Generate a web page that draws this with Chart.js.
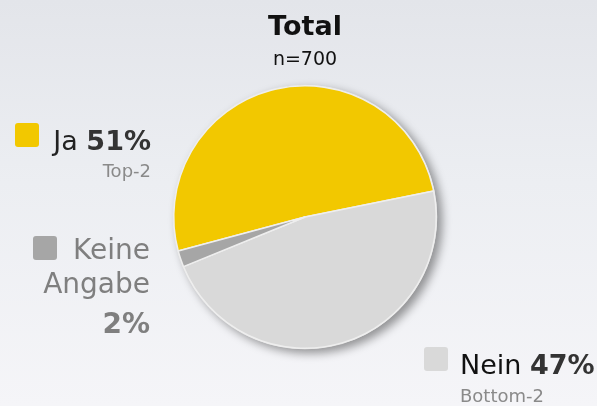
<!DOCTYPE html>
<html lang="de">
<head>
<meta charset="utf-8">
<title>Total n=700</title>
<script src="https://cdn.jsdelivr.net/npm/chart.js@4"></script>
<style>
  html, body {
    margin: 0;
    padding: 0;
    width: 597px;
    height: 406px;
    overflow: hidden;
    background: linear-gradient(to bottom, #e3e5ea 0%, #eceef2 45%, #f5f5f8 100%);
  }
  #chart { display: block; }
</style>
</head>
<body>
<canvas id="chart" width="597" height="406"></canvas>
<script>
// Daten
const categories = ['Ja', 'Nein', 'Keine Angabe'];
const shares = [51, 47, 2];
const subLabels = ['Top-2', 'Bottom-2', ''];
const sliceColors = ['#f2c800', '#d9d9d9', '#a6a6a6'];
const titleText = 'Total';
const subtitleText = 'n=700';

const FONT = '"DejaVu Sans", Verdana, sans-serif';
const MAIN_SIZE = 27;

// Position der Beschriftungen (nur Layout)
const labelLayout = [
  { align: 'right', x: 151, y: 150, box: [15, 123], color: '#222', lineGap: 0, subY: 177 },
  { align: 'left', x: 460, y: 374, box: [424, 347], color: '#111', lineGap: 0, subY: 402 },
  { align: 'right', x: 150, y: 259, box: [33, 236], color: '#7f7f7f', lineGap: 35, subY: 0 }
];

function roundRect(ctx, x, y, w, h, r) {
  ctx.beginPath();
  ctx.moveTo(x + r, y);
  ctx.arcTo(x + w, y, x + w, y + h, r);
  ctx.arcTo(x + w, y + h, x, y + h, r);
  ctx.arcTo(x, y + h, x, y, r);
  ctx.arcTo(x, y, x + w, y, r);
  ctx.closePath();
}

// Schatten hinter dem Kreis
const shadowPlugin = {
  id: 'pieShadow',
  beforeDatasetsDraw(chart) {
    const arc = chart.getDatasetMeta(0).data[0];
    if (!arc) return;
    const ctx = chart.ctx;
    ctx.save();
    ctx.shadowColor = 'rgba(0,0,0,0.4)';
    ctx.shadowBlur = 10;
    ctx.shadowOffsetX = 5;
    ctx.shadowOffsetY = 4;
    ctx.fillStyle = '#e4e4e4';
    ctx.beginPath();
    ctx.arc(arc.x, arc.y, arc.outerRadius + 1, 0, Math.PI * 2);
    ctx.fill();
    ctx.restore();
  }
};

// Titel und Beschriftungen
const labelPlugin = {
  id: 'pieLabels',
  afterDraw(chart) {
    const ctx = chart.ctx;
    ctx.save();
    ctx.textBaseline = 'alphabetic';

    ctx.fillStyle = '#111';
    ctx.textAlign = 'center';
    ctx.font = 'bold 27px ' + FONT;
    ctx.fillText(titleText, 305, 35);
    ctx.font = '19px ' + FONT;
    ctx.fillText(subtitleText, 305, 65);

    categories.forEach((name, i) => {
      const lay = labelLayout[i];
      const pct = shares[i] + '%';

      ctx.fillStyle = sliceColors[i];
      roundRect(ctx, lay.box[0], lay.box[1], 24, 24, 3);
      ctx.fill();

      ctx.fillStyle = lay.color;
      if (lay.lineGap > 0) {
        // mehrzeilig, rechtsbündig
        const words = name.split(' ');
        ctx.textAlign = 'right';
        ctx.font = '28px ' + FONT;
        words.forEach((w, k) => ctx.fillText(w, lay.x, lay.y + k * (lay.lineGap - 1)));
        ctx.font = 'bold 28px ' + FONT;
        ctx.fillText(pct, lay.x, lay.y + words.length * 37);
      } else {
        ctx.font = 'bold ' + MAIN_SIZE + 'px ' + FONT;
        const wPct = ctx.measureText(pct).width;
        ctx.font = MAIN_SIZE + 'px ' + FONT;
        const namePart = name + ' ';
        const wName = ctx.measureText(namePart).width;
        const start = lay.align === 'right' ? lay.x - wPct - wName : lay.x;
        ctx.textAlign = 'left';
        ctx.fillText(namePart, start, lay.y);
        ctx.font = 'bold ' + MAIN_SIZE + 'px ' + FONT;
        ctx.fillStyle = '#333';
        ctx.fillText(pct, start + wName, lay.y);

        if (subLabels[i]) {
          ctx.fillStyle = '#8a8a8a';
          ctx.font = '18px ' + FONT;
          ctx.textAlign = lay.align;
          ctx.fillText(subLabels[i], lay.x, lay.subY);
        }
      }
    });
    ctx.restore();
  }
};

const chart = new Chart(document.getElementById('chart'), {
  type: 'pie',
  data: {
    labels: categories,
    datasets: [{
      data: shares,
      backgroundColor: sliceColors,
      borderColor: '#eeeeee',
      borderWidth: 1.5
    }]
  },
  options: {
    responsive: false,
    animation: false,
    devicePixelRatio: 1,
    rotation: -105,
    layout: { padding: { left: 173, right: 160, top: 85, bottom: 57 } },
    plugins: {
      legend: { display: false },
      tooltip: { enabled: false }
    }
  },
  plugins: [shadowPlugin, labelPlugin]
});
</script>
</body>
</html>
